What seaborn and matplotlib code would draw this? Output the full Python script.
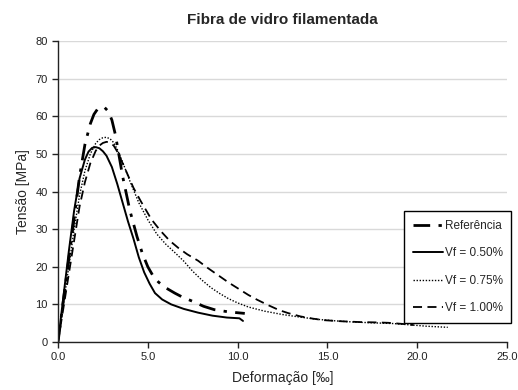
import matplotlib
matplotlib.use("Agg")
import matplotlib.pyplot as plt
import seaborn as sns
import numpy as np
import pandas as pd
from matplotlib.ticker import FormatStrFormatter

sns.set_theme(style="white")
plt.rcParams['font.family'] = ['Liberation Sans', 'DejaVu Sans']

title = "Fibra de vidro filamentada"
xlabel = "Deformação [‰]"
ylabel = "Tensão [MPa]"
labels = ["Referência", "Vf = 0.50%", "Vf = 0.75%", "Vf = 1.00%"]

ref_x = [0, 0.3, 0.6, 0.9, 1.2, 1.5, 1.8, 2.0, 2.2, 2.4, 2.6, 2.8, 3.0, 3.2, 3.4, 3.6, 4.0, 4.4, 4.7, 5.0, 5.3, 5.6, 6.0, 6.5, 6.9, 7.5, 8.1, 8.7, 9.5, 10.4]
ref_y = [0, 11, 22, 33, 44, 52.5, 58, 60.5, 61.9, 62.4, 62.3, 61.3, 59.0, 55.0, 49.5, 44, 35, 28, 23.5, 20, 17.5, 15.9, 14.4, 13, 12, 10.8, 9.5, 8.6, 8.0, 7.6]

v050_x = [0, 0.3, 0.6, 0.9, 1.2, 1.5, 1.7, 1.9, 2.1, 2.3, 2.5, 2.7, 3.0, 3.3, 3.6, 3.9, 4.2, 4.5, 4.8, 5.1, 5.4, 5.8, 6.3, 7.0, 7.8, 8.6, 9.4, 10.1, 10.3]
v050_y = [0, 12, 24, 35, 43.5, 48.5, 50.6, 51.6, 51.8, 51.5, 50.7, 49.5, 46.5, 42, 37, 32, 27.5, 22.5, 18.5, 15.5, 13, 11.3, 10, 8.8, 7.8, 7.0, 6.5, 6.3, 5.6]

v075_x = [0, 0.3, 0.6, 0.9, 1.2, 1.5, 1.8, 2.1, 2.3, 2.5, 2.7, 2.9, 3.1, 3.3, 3.6, 4.0, 4.5, 5.0, 5.5, 6.0, 6.5, 7.0, 7.5, 8.0, 8.5, 9.0, 9.5, 10.0, 10.6, 11.5, 12.5, 13.5, 14.5, 15.5, 16.5, 17.5, 18.7, 19.5, 20.5, 21.3, 21.7]
v075_y = [0, 10, 20, 30, 39, 45.5, 50, 52.8, 53.8, 54.3, 54.4, 54.0, 53.0, 51.2, 47.8, 42.8, 37, 32.5, 28.7, 26, 23.8, 21.5, 18.8, 16.5, 14.5, 12.9, 11.5, 10.4, 9.3, 8.2, 7.3, 6.6, 6.0, 5.6, 5.3, 5.1, 4.9, 4.6, 4.2, 4.0, 3.9]

v100_x = [0, 0.3, 0.6, 0.9, 1.2, 1.5, 1.8, 2.1, 2.3, 2.5, 2.7, 2.9, 3.1, 3.3, 3.6, 4.2, 4.6, 5.2, 5.7, 6.2, 6.7, 7.2, 7.8, 8.3, 8.9, 9.5, 10.0, 10.6, 11.1, 11.7, 12.3, 12.8, 13.5, 14.2, 14.8, 15.8, 16.8, 17.8, 18.4, 19.2, 19.8]
v100_y = [0, 9, 18, 27, 36, 42.5, 47.5, 50.8, 52.2, 52.9, 53.2, 53.0, 52.2, 50.6, 47.5, 41, 37.5, 32.6, 29.6, 27, 25, 23.3, 21.6, 19.8, 17.8, 15.8, 14.3, 12.5, 11.2, 9.8, 8.5, 7.7, 6.8, 6.2, 5.8, 5.5, 5.3, 5.2, 5.1, 4.8, 4.5]

xticks = [0, 5, 10, 15, 20, 25]
yticks = [0, 10, 20, 30, 40, 50, 60, 70, 80]

series = [(ref_x, ref_y), (v050_x, v050_y), (v075_x, v075_y), (v100_x, v100_y)]
styles = [
    dict(linestyle=(0, (6, 3, 1.2, 3)), linewidth=2.0),
    dict(linestyle='-', linewidth=1.4),
    dict(linestyle=(0, (1, 1.2)), linewidth=1.0),
    dict(linestyle=(0, (5, 3)), linewidth=1.3),
]

fig = plt.figure(figsize=(5.18, 3.9), dpi=100)
ax = fig.add_axes([58/518, 1-342/390, (507-58)/518, (342-41)/390])

for (xs, ys), lab, st in zip(series, labels, styles):
    df = pd.DataFrame({"x": xs, "y": ys})
    sns.lineplot(data=df, x="x", y="y", ax=ax, sort=False, color="black",
                 label=lab, estimator=None, **st)

ax.set_xlim(0, 25)
ax.set_ylim(0, 80)
ax.set_xticks(xticks)
ax.set_yticks(yticks)
ax.xaxis.set_major_formatter(FormatStrFormatter('%.1f'))
ax.yaxis.grid(True, color="#d9d9d9", linewidth=1.0)
ax.xaxis.grid(False)
ax.set_axisbelow(True)
for s in ["top", "right"]:
    ax.spines[s].set_visible(False)
for s in ["left", "bottom"]:
    ax.spines[s].set_color("#222222")
    ax.spines[s].set_linewidth(1.0)
ax.tick_params(axis='both', direction='out', length=4, width=1, color="#222222",
               labelsize=8, labelcolor="#222222", bottom=True, left=True)

ax.set_title(title, fontsize=11, fontweight='bold', pad=12)
ax.set_xlabel(xlabel, fontsize=10, labelpad=6)
ax.set_ylabel(ylabel, fontsize=10, labelpad=4)

leg = ax.legend(loc='lower right', bbox_to_anchor=(1.01, 0.063), borderaxespad=0,
                fontsize=8.5, frameon=True, fancybox=False, edgecolor='black',
                labelspacing=1.3, handlelength=2.6, handletextpad=0.1,
                borderpad=0.75, framealpha=1)
leg.get_frame().set_linewidth(1.0)

fig.savefig("out.png", dpi=100)
